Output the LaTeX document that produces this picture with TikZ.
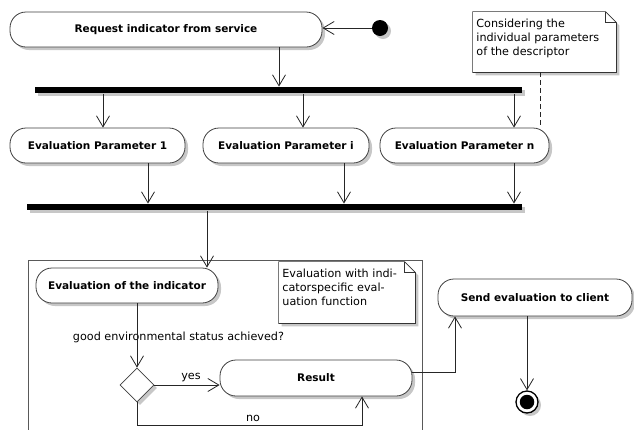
\documentclass[tikz,border=0pt]{standalone}
\usepackage{fontspec}
\setmainfont{DejaVu Sans}
\usetikzlibrary{arrows.meta,shadows,shapes.geometric}
\begin{document}
\begin{tikzpicture}[x=1pt,y=-1pt,
  line width=0.8pt,
  >={Straight Barb[length=11pt,width=13pt]},
  shad/.style={drop shadow={shadow xshift=3pt,shadow yshift=-3pt,fill=black,opacity=0.22}},
  act/.style={draw=black!75,fill=white,rounded corners=16pt,inner sep=0pt,
    font=\fontsize{10.5}{12}\selectfont\bfseries,shad},
  bar/.style={fill=black,draw=none,inner sep=0pt,minimum height=6.5pt,shad},
  notebox/.style={draw=none,inner sep=0pt},
  noteline/.style={draw=black!80,fill=white,line width=0.7pt},
  notetext/.style={font=\fontsize{11.2}{14}\selectfont,align=left,inner sep=0pt,anchor=north west},
  lbl/.style={font=\fontsize{11.2}{14}\selectfont,inner sep=0pt,anchor=base},
  conn/.style={draw=black!85,line width=0.8pt},
]
\useasboundingbox[fill=white] (0,0) rectangle (634,429);

% partition
\draw[draw=black!65,line width=0.8pt] (28,432) -- (28,260) -- (422,260) -- (422,432);

% top part
\node[act,minimum width=312pt,minimum height=35pt] (req) at (166,29.5) {Request indicator from service};
\node[circle,fill=black,minimum size=16pt,inner sep=0pt,shad] (start) at (380,28) {};
\node[bar,minimum width=487pt] (bar1) at (278.5,90.2) {};

% note 1
\node[notebox,minimum width=143pt,minimum height=60pt] (note1) at (544.5,42) {};
\draw[noteline,shad] (note1.north west) -- ([xshift=-11pt]note1.north east)
  -- ([yshift=-11pt]note1.north east) -- (note1.south east) -- (note1.south west) -- cycle;
\draw[noteline,fill=none] ([xshift=-11pt]note1.north east) -- ([xshift=-11pt,yshift=-11pt]note1.north east)
  -- ([yshift=-11pt]note1.north east);
\node[notetext] (note1t) at (476,18.5) {Considering the\\individual parameters\\of the descriptor};

% parameter nodes
\node[act,minimum width=175pt,minimum height=35pt] (p1) at (97.5,145.5) {Evaluation Parameter 1};
\node[act,minimum width=166pt,minimum height=35pt] (pi) at (286,145.5) {Evaluation Parameter i};
\node[act,minimum width=169pt,minimum height=35pt] (pn) at (464.5,145.5) {Evaluation Parameter n};
\node[bar,minimum width=495pt] (bar2) at (274.5,207.2) {};

% lower part
\node[act,minimum width=182pt,minimum height=35pt] (evalind) at (127,285.5) {Evaluation of the indicator};

% note 2
\node[notebox,minimum width=136pt,minimum height=61pt] (note2) at (347,292.5) {};
\draw[noteline,shad] (note2.north west) -- ([xshift=-11pt]note2.north east)
  -- ([yshift=-11pt]note2.north east) -- (note2.south east) -- (note2.south west) -- cycle;
\draw[noteline,fill=none] ([xshift=-11pt]note2.north east) -- ([xshift=-11pt,yshift=-11pt]note2.north east)
  -- ([yshift=-11pt]note2.north east);
\node[notetext] (note2t) at (282,268.5) {Evaluation with indi-\\catorspecific eval-\\uation function};

\node[lbl] (cond) at (178.5,340) {good environmental status achieved?};
\node[diamond,aspect=1,draw=black!75,fill=white,minimum size=34pt,inner sep=0pt,shad] (dec) at (137,385) {};
\node[act,minimum width=192pt,minimum height=36pt] (res) at (316,378) {Result};
\node[lbl] (yes) at (191,379) {yes};
\node[lbl] (no) at (253,421) {no};

\node[act,minimum width=194pt,minimum height=37pt] (send) at (535,297.5) {Send evaluation to client};
\node[circle,draw=black,line width=1.3pt,fill=white,minimum size=22pt,inner sep=0pt,shad] (end) at (527,402) {};
\node[circle,fill=black,minimum size=14.5pt,inner sep=0pt] (endin) at (527,402) {};

% connectors
\draw[conn,->] (start.west) -- (req.east |- start.west);
\draw[conn,->] (req.south -| 279,0) -- (bar1.north -| 279,0);
\draw[conn,dash pattern=on 5pt off 3pt] (note1.south -| 540,0) -- (pn.north -| 540,0);
\draw[conn,->] (bar1.south -| 103,0) -- (p1.north -| 103,0);
\draw[conn,->] (bar1.south -| 303,0) -- (pi.north -| 303,0);
\draw[conn,->] (bar1.south -| 514,0) -- (pn.north -| 514,0);
\draw[conn,->] (p1.south -| 148,0) -- (bar2.north -| 148,0);
\draw[conn,->] (pi.south -| 344,0) -- (bar2.north -| 344,0);
\draw[conn,->] (pn.south -| 514,0) -- (bar2.north -| 514,0);
\draw[conn,->] (bar2.south -| 207,0) -- (evalind.north -| 207,0);
\draw[conn,->] (evalind.south -| dec.north) -- (dec.north);
\draw[conn,->] (dec.east) -- (res.west |- dec.east);
\draw[conn,->] (dec.south) -- ++(0,23) -| (res.south -| 362,0);
\draw[conn,->] (res.east |- 0,372) -| (send.south -| 455,0);
\draw[conn,->] (send.south -| end.north) -- (end.north);
\end{tikzpicture}
\end{document}
